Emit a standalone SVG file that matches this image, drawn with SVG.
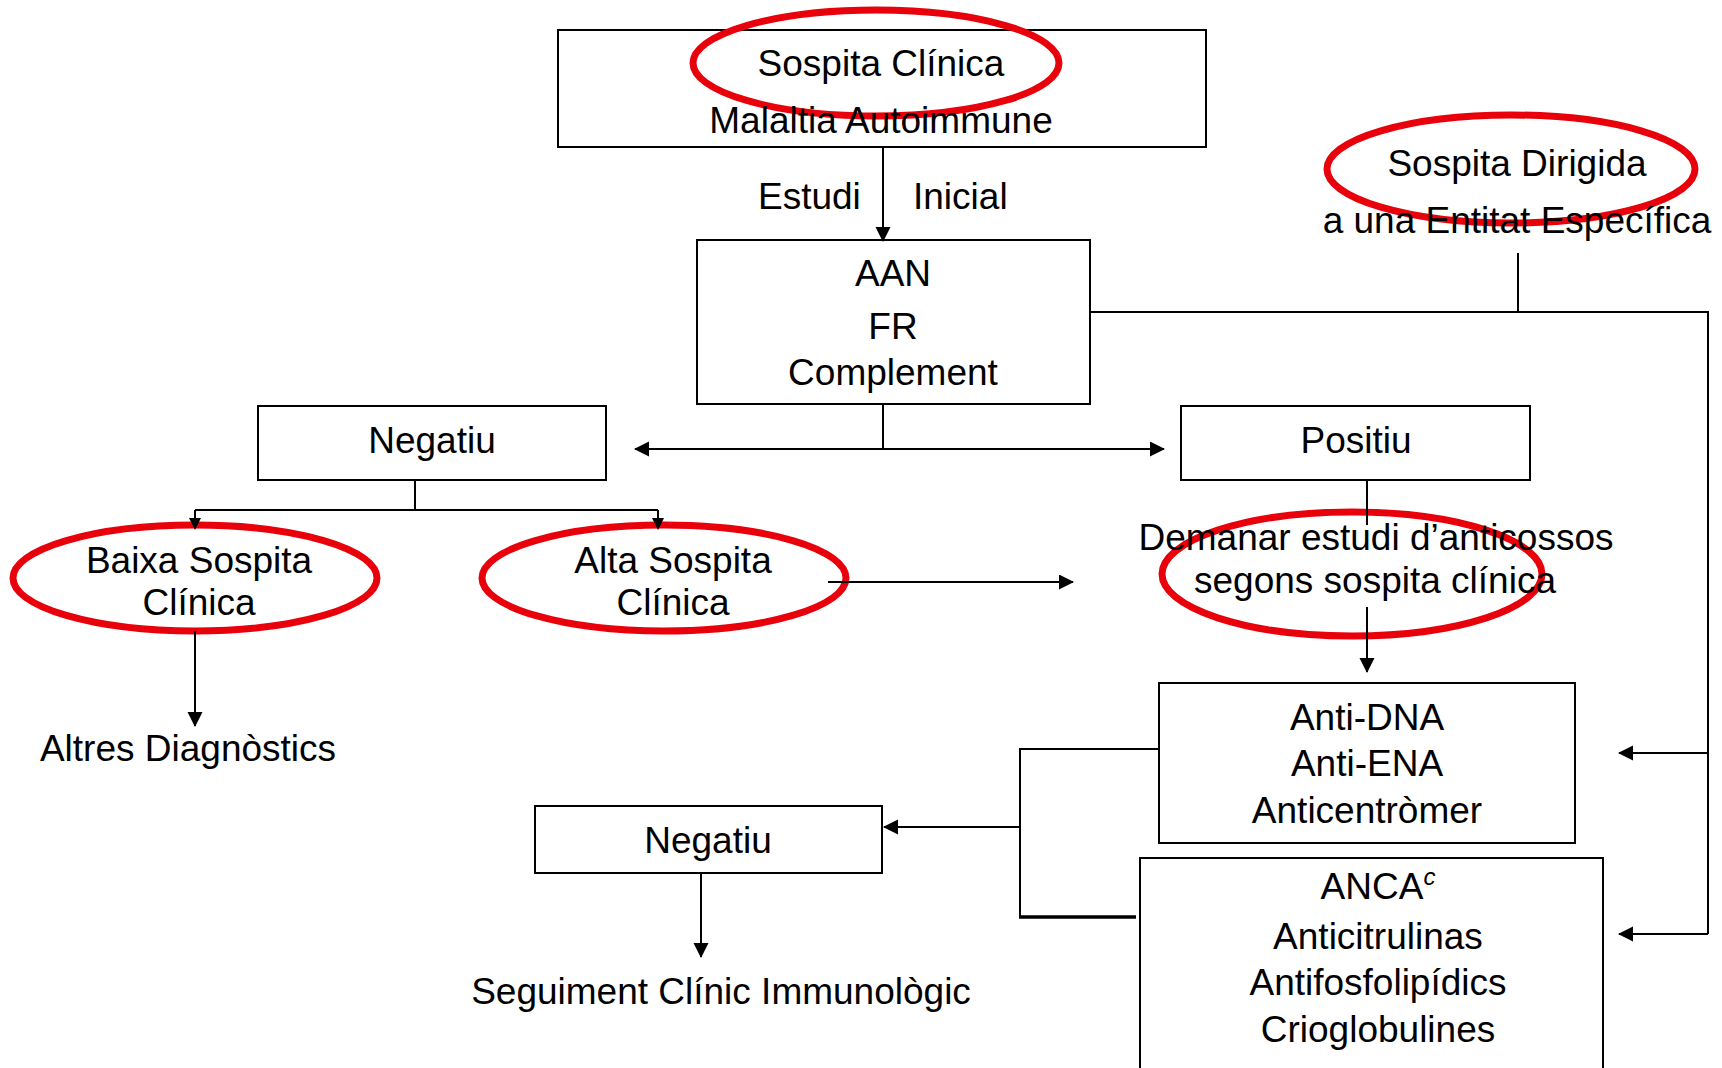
<svg xmlns="http://www.w3.org/2000/svg" width="1722" height="1068" viewBox="0 0 1722 1068">
<defs>
<marker id="ah" markerWidth="16" markerHeight="16" refX="14" refY="7.5" orient="auto" markerUnits="userSpaceOnUse">
<path d="M0,0 L15,7.5 L0,15 Z" fill="#000"/>
</marker>
<marker id="ahs" markerWidth="14" markerHeight="14" refX="10" refY="6" orient="auto" markerUnits="userSpaceOnUse">
<path d="M0,0 L12,6 L0,12 Z" fill="#000"/>
</marker>
<style>
text{font-family:"Liberation Sans",Arial,sans-serif;font-size:37px;fill:#000;text-anchor:middle}
.box{fill:#fff;stroke:#000;stroke-width:2}
.red{fill:none;stroke:#e8000b;stroke-width:7}
.ln{fill:none;stroke:#000;stroke-width:2}
</style>
</defs>
<rect width="1722" height="1068" fill="#fff"/>

<g id="sospita-clinica">
<rect class="box" x="558" y="30" width="648" height="117"/>
<ellipse class="red" cx="876" cy="63" rx="183" ry="53"/>
<text x="881" y="76">Sospita Clínica</text>
<text x="881" y="133">Malaltia Autoimmune</text>
</g>

<g id="estudi-inicial">
<text x="758" y="209" style="text-anchor:start">Estudi</text>
<text x="913" y="209" style="text-anchor:start">Inicial</text>
</g>

<g id="sospita-dirigida">
<ellipse class="red" cx="1511" cy="169" rx="184" ry="54"/>
<text x="1517" y="176">Sospita Dirigida</text>
<text x="1517" y="233">a una Entitat Específica</text>
</g>

<g id="aan">
<rect class="box" x="697" y="240" width="393" height="164"/>
<text x="893" y="286">AAN</text>
<text x="893" y="339">FR</text>
<text x="893" y="385">Complement</text>
</g>

<g id="negatiu1">
<rect class="box" x="258" y="406" width="348" height="74"/>
<text x="432" y="453">Negatiu</text>
</g>

<g id="positiu">
<rect class="box" x="1181" y="406" width="349" height="74"/>
<text x="1356" y="453">Positiu</text>
</g>

<g id="baixa">
<ellipse class="red" cx="195" cy="578" rx="182" ry="53"/>
<text x="199" y="573">Baixa Sospita</text>
<text x="199" y="615">Clínica</text>
</g>

<g id="alta">
<ellipse class="red" cx="664" cy="578" rx="182" ry="53"/>
<text x="673" y="573">Alta Sospita</text>
<text x="673" y="615">Clínica</text>
</g>

<g id="demanar">
<ellipse class="red" cx="1352" cy="574" rx="190" ry="62"/>
<text x="1376" y="550">Demanar estudi d’anticossos</text>
<text x="1375" y="593">segons sospita clínica</text>
</g>

<g id="altres">
<text x="188" y="761">Altres Diagnòstics</text>
</g>

<g id="anti-dna">
<rect class="box" x="1159" y="683" width="416" height="160"/>
<text x="1367" y="730">Anti-DNA</text>
<text x="1367" y="776">Anti-ENA</text>
<text x="1367" y="823">Anticentròmer</text>
</g>

<g id="anca">
<rect class="box" x="1140" y="858" width="463" height="220"/>
<text x="1378" y="899">ANCA<tspan font-size="24" font-style="italic" dy="-14">c</tspan></text>
<text x="1378" y="949">Anticitrulinas</text>
<text x="1378" y="995">Antifosfolipídics</text>
<text x="1378" y="1042">Crioglobulines</text>
</g>

<g id="negatiu2">
<rect class="box" x="535" y="806" width="347" height="67"/>
<text x="708" y="853">Negatiu</text>
</g>

<g id="seguiment">
<text x="721" y="1004">Seguiment Clínic Immunològic</text>
</g>

<g id="connectors">
<path class="ln" d="M883,147 V241" marker-end="url(#ah)"/>
<path class="ln" d="M1518,253 V312 M1090,312 H1708 V934"/>
<path class="ln" d="M1708,753 H1619" marker-end="url(#ah)"/>
<path class="ln" d="M1708,934 H1619" marker-end="url(#ah)"/>
<path class="ln" d="M883,404 V449"/>
<path class="ln" d="M883,449 H635" marker-end="url(#ah)"/>
<path class="ln" d="M883,449 H1164" marker-end="url(#ah)"/>
<path class="ln" d="M415,480 V510 M195,510 H658"/>
<path class="ln" d="M195,510 V528" marker-end="url(#ahs)"/>
<path class="ln" d="M658,510 V528" marker-end="url(#ahs)"/>
<path class="ln" d="M195,631 V726" marker-end="url(#ah)"/>
<path class="ln" d="M828,582 H1073" marker-end="url(#ah)"/>
<path class="ln" d="M1367,480 V525"/>
<path class="ln" d="M1367,607 V672" marker-end="url(#ah)"/>
<path class="ln" d="M1159,749 H1020 V917"/>
<path d="M1019,917 H1136" stroke="#000" stroke-width="3.5" fill="none"/>
<path class="ln" d="M1020,827 H884" marker-end="url(#ah)"/>
<path class="ln" d="M701,873 V957" marker-end="url(#ah)"/>
</g>
</svg>
